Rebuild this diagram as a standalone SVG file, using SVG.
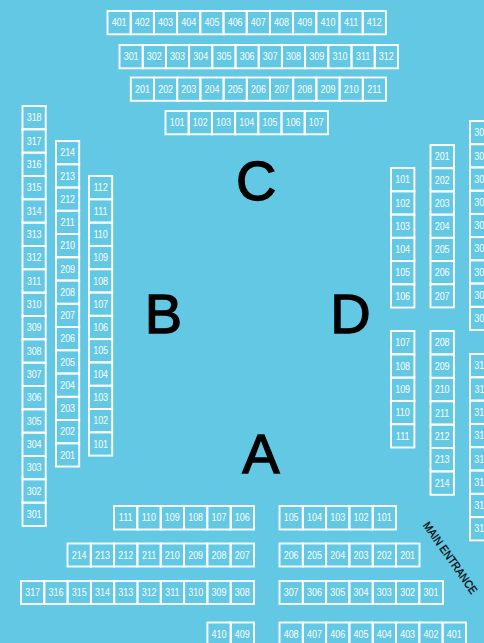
<svg xmlns="http://www.w3.org/2000/svg" width="484" height="643" viewBox="0 0 484 643">
<style>
.bg{fill:#62c8e3}
.seat rect{fill:none;stroke:#fff;stroke-width:1.9}
.seat text{font-family:"Liberation Sans",Arial,sans-serif;font-size:11.2px;fill:#fff;text-anchor:middle;transform-box:fill-box;transform-origin:center;transform:scaleX(.8)}
.big{font-family:"Liberation Sans",Arial,sans-serif;font-size:56px;fill:#000;stroke:#000;stroke-width:1.3;text-anchor:middle}
.ent{font-family:"Liberation Sans",Arial,sans-serif;font-size:11.5px;fill:#000;stroke:#000;stroke-width:.25;text-anchor:middle}
</style>
<rect class="bg" width="484" height="643"/>
<g id="connectors"/>
<g id="labels">
<text id="label-c" class="big" x="256.3" y="200">C</text>
<text id="label-b" class="big" x="163.5" y="333">B</text>
<text id="label-d" class="big" x="350.5" y="333">D</text>
<text id="label-a" class="big" x="261" y="473">A</text>
<text id="main-entrance" class="ent" x="0" y="0" textLength="85" lengthAdjust="spacingAndGlyphs" transform="translate(447 560) rotate(55)">MAIN ENTRANCE</text>
</g>
<g id="section-c-row-400">
<g id="c401" class="seat" transform="translate(107.5 11)"><rect width="23.2" height="23.3"/><text x="11.6" y="15.4">401</text></g>
<g id="c402" class="seat" transform="translate(130.7 11)"><rect width="23.2" height="23.3"/><text x="11.6" y="15.4">402</text></g>
<g id="c403" class="seat" transform="translate(153.9 11)"><rect width="23.2" height="23.3"/><text x="11.6" y="15.4">403</text></g>
<g id="c404" class="seat" transform="translate(177.1 11)"><rect width="23.2" height="23.3"/><text x="11.6" y="15.4">404</text></g>
<g id="c405" class="seat" transform="translate(200.3 11)"><rect width="23.2" height="23.3"/><text x="11.6" y="15.4">405</text></g>
<g id="c406" class="seat" transform="translate(223.5 11)"><rect width="23.2" height="23.3"/><text x="11.6" y="15.4">406</text></g>
<g id="c407" class="seat" transform="translate(246.7 11)"><rect width="23.2" height="23.3"/><text x="11.6" y="15.4">407</text></g>
<g id="c408" class="seat" transform="translate(269.9 11)"><rect width="23.2" height="23.3"/><text x="11.6" y="15.4">408</text></g>
<g id="c409" class="seat" transform="translate(293.1 11)"><rect width="23.2" height="23.3"/><text x="11.6" y="15.4">409</text></g>
<g id="c410" class="seat" transform="translate(316.3 11)"><rect width="23.2" height="23.3"/><text x="11.6" y="15.4">410</text></g>
<g id="c411" class="seat" transform="translate(339.5 11)"><rect width="23.2" height="23.3"/><text x="11.6" y="15.4">411</text></g>
<g id="c412" class="seat" transform="translate(362.7 11)"><rect width="23.2" height="23.3"/><text x="11.6" y="15.4">412</text></g>
</g>
<g id="section-c-row-300">
<g id="c301" class="seat" transform="translate(119.5 45)"><rect width="23.2" height="23.3"/><text x="11.6" y="15.4">301</text></g>
<g id="c302" class="seat" transform="translate(142.7 45)"><rect width="23.2" height="23.3"/><text x="11.6" y="15.4">302</text></g>
<g id="c303" class="seat" transform="translate(165.9 45)"><rect width="23.2" height="23.3"/><text x="11.6" y="15.4">303</text></g>
<g id="c304" class="seat" transform="translate(189.1 45)"><rect width="23.2" height="23.3"/><text x="11.6" y="15.4">304</text></g>
<g id="c305" class="seat" transform="translate(212.3 45)"><rect width="23.2" height="23.3"/><text x="11.6" y="15.4">305</text></g>
<g id="c306" class="seat" transform="translate(235.5 45)"><rect width="23.2" height="23.3"/><text x="11.6" y="15.4">306</text></g>
<g id="c307" class="seat" transform="translate(258.7 45)"><rect width="23.2" height="23.3"/><text x="11.6" y="15.4">307</text></g>
<g id="c308" class="seat" transform="translate(281.9 45)"><rect width="23.2" height="23.3"/><text x="11.6" y="15.4">308</text></g>
<g id="c309" class="seat" transform="translate(305.1 45)"><rect width="23.2" height="23.3"/><text x="11.6" y="15.4">309</text></g>
<g id="c310" class="seat" transform="translate(328.3 45)"><rect width="23.2" height="23.3"/><text x="11.6" y="15.4">310</text></g>
<g id="c311" class="seat" transform="translate(351.5 45)"><rect width="23.2" height="23.3"/><text x="11.6" y="15.4">311</text></g>
<g id="c312" class="seat" transform="translate(374.7 45)"><rect width="23.2" height="23.3"/><text x="11.6" y="15.4">312</text></g>
</g>
<g id="section-c-row-200">
<g id="c201" class="seat" transform="translate(130.8 77.5)"><rect width="23.2" height="23.3"/><text x="11.6" y="15.4">201</text></g>
<g id="c202" class="seat" transform="translate(154 77.5)"><rect width="23.2" height="23.3"/><text x="11.6" y="15.4">202</text></g>
<g id="c203" class="seat" transform="translate(177.2 77.5)"><rect width="23.2" height="23.3"/><text x="11.6" y="15.4">203</text></g>
<g id="c204" class="seat" transform="translate(200.4 77.5)"><rect width="23.2" height="23.3"/><text x="11.6" y="15.4">204</text></g>
<g id="c205" class="seat" transform="translate(223.6 77.5)"><rect width="23.2" height="23.3"/><text x="11.6" y="15.4">205</text></g>
<g id="c206" class="seat" transform="translate(246.8 77.5)"><rect width="23.2" height="23.3"/><text x="11.6" y="15.4">206</text></g>
<g id="c207" class="seat" transform="translate(270 77.5)"><rect width="23.2" height="23.3"/><text x="11.6" y="15.4">207</text></g>
<g id="c208" class="seat" transform="translate(293.2 77.5)"><rect width="23.2" height="23.3"/><text x="11.6" y="15.4">208</text></g>
<g id="c209" class="seat" transform="translate(316.4 77.5)"><rect width="23.2" height="23.3"/><text x="11.6" y="15.4">209</text></g>
<g id="c210" class="seat" transform="translate(339.6 77.5)"><rect width="23.2" height="23.3"/><text x="11.6" y="15.4">210</text></g>
<g id="c211" class="seat" transform="translate(362.8 77.5)"><rect width="23.2" height="23.3"/><text x="11.6" y="15.4">211</text></g>
</g>
<g id="section-c-row-100">
<g id="c101" class="seat" transform="translate(165.5 111)"><rect width="23.2" height="23.3"/><text x="11.6" y="15.4">101</text></g>
<g id="c102" class="seat" transform="translate(188.7 111)"><rect width="23.2" height="23.3"/><text x="11.6" y="15.4">102</text></g>
<g id="c103" class="seat" transform="translate(211.9 111)"><rect width="23.2" height="23.3"/><text x="11.6" y="15.4">103</text></g>
<g id="c104" class="seat" transform="translate(235.1 111)"><rect width="23.2" height="23.3"/><text x="11.6" y="15.4">104</text></g>
<g id="c105" class="seat" transform="translate(258.3 111)"><rect width="23.2" height="23.3"/><text x="11.6" y="15.4">105</text></g>
<g id="c106" class="seat" transform="translate(281.5 111)"><rect width="23.2" height="23.3"/><text x="11.6" y="15.4">106</text></g>
<g id="c107" class="seat" transform="translate(304.7 111)"><rect width="23.2" height="23.3"/><text x="11.6" y="15.4">107</text></g>
</g>
<g id="section-b-col-300">
<g id="b318" class="seat" transform="translate(22.5 106)"><rect width="23.2" height="23.3"/><text x="11.6" y="15.4">318</text></g>
<g id="b317" class="seat" transform="translate(22.5 129.3)"><rect width="23.2" height="23.3"/><text x="11.6" y="15.4">317</text></g>
<g id="b316" class="seat" transform="translate(22.5 152.7)"><rect width="23.2" height="23.3"/><text x="11.6" y="15.4">316</text></g>
<g id="b315" class="seat" transform="translate(22.5 176)"><rect width="23.2" height="23.3"/><text x="11.6" y="15.4">315</text></g>
<g id="b314" class="seat" transform="translate(22.5 199.3)"><rect width="23.2" height="23.3"/><text x="11.6" y="15.4">314</text></g>
<g id="b313" class="seat" transform="translate(22.5 222.7)"><rect width="23.2" height="23.3"/><text x="11.6" y="15.4">313</text></g>
<g id="b312" class="seat" transform="translate(22.5 246)"><rect width="23.2" height="23.3"/><text x="11.6" y="15.4">312</text></g>
<g id="b311" class="seat" transform="translate(22.5 269.3)"><rect width="23.2" height="23.3"/><text x="11.6" y="15.4">311</text></g>
<g id="b310" class="seat" transform="translate(22.5 292.7)"><rect width="23.2" height="23.3"/><text x="11.6" y="15.4">310</text></g>
<g id="b309" class="seat" transform="translate(22.5 316)"><rect width="23.2" height="23.3"/><text x="11.6" y="15.4">309</text></g>
<g id="b308" class="seat" transform="translate(22.5 339.3)"><rect width="23.2" height="23.3"/><text x="11.6" y="15.4">308</text></g>
<g id="b307" class="seat" transform="translate(22.5 362.7)"><rect width="23.2" height="23.3"/><text x="11.6" y="15.4">307</text></g>
<g id="b306" class="seat" transform="translate(22.5 386)"><rect width="23.2" height="23.3"/><text x="11.6" y="15.4">306</text></g>
<g id="b305" class="seat" transform="translate(22.5 409.3)"><rect width="23.2" height="23.3"/><text x="11.6" y="15.4">305</text></g>
<g id="b304" class="seat" transform="translate(22.5 432.7)"><rect width="23.2" height="23.3"/><text x="11.6" y="15.4">304</text></g>
<g id="b303" class="seat" transform="translate(22.5 456)"><rect width="23.2" height="23.3"/><text x="11.6" y="15.4">303</text></g>
<g id="b302" class="seat" transform="translate(22.5 479.3)"><rect width="23.2" height="23.3"/><text x="11.6" y="15.4">302</text></g>
<g id="b301" class="seat" transform="translate(22.5 502.7)"><rect width="23.2" height="23.3"/><text x="11.6" y="15.4">301</text></g>
</g>
<g id="section-b-col-200">
<g id="b214" class="seat" transform="translate(56 141)"><rect width="23.2" height="23.3"/><text x="11.6" y="15.4">214</text></g>
<g id="b213" class="seat" transform="translate(56 164.25)"><rect width="23.2" height="23.3"/><text x="11.6" y="15.4">213</text></g>
<g id="b212" class="seat" transform="translate(56 187.5)"><rect width="23.2" height="23.3"/><text x="11.6" y="15.4">212</text></g>
<g id="b211" class="seat" transform="translate(56 210.75)"><rect width="23.2" height="23.3"/><text x="11.6" y="15.4">211</text></g>
<g id="b210" class="seat" transform="translate(56 234)"><rect width="23.2" height="23.3"/><text x="11.6" y="15.4">210</text></g>
<g id="b209" class="seat" transform="translate(56 257.25)"><rect width="23.2" height="23.3"/><text x="11.6" y="15.4">209</text></g>
<g id="b208" class="seat" transform="translate(56 280.5)"><rect width="23.2" height="23.3"/><text x="11.6" y="15.4">208</text></g>
<g id="b207" class="seat" transform="translate(56 303.75)"><rect width="23.2" height="23.3"/><text x="11.6" y="15.4">207</text></g>
<g id="b206" class="seat" transform="translate(56 327)"><rect width="23.2" height="23.3"/><text x="11.6" y="15.4">206</text></g>
<g id="b205" class="seat" transform="translate(56 350.25)"><rect width="23.2" height="23.3"/><text x="11.6" y="15.4">205</text></g>
<g id="b204" class="seat" transform="translate(56 373.5)"><rect width="23.2" height="23.3"/><text x="11.6" y="15.4">204</text></g>
<g id="b203" class="seat" transform="translate(56 396.75)"><rect width="23.2" height="23.3"/><text x="11.6" y="15.4">203</text></g>
<g id="b202" class="seat" transform="translate(56 420)"><rect width="23.2" height="23.3"/><text x="11.6" y="15.4">202</text></g>
<g id="b201" class="seat" transform="translate(56 443.25)"><rect width="23.2" height="23.3"/><text x="11.6" y="15.4">201</text></g>
</g>
<g id="section-b-col-100">
<g id="b112" class="seat" transform="translate(89 176)"><rect width="23.2" height="23.3"/><text x="11.6" y="15.4">112</text></g>
<g id="b111" class="seat" transform="translate(89 199.3)"><rect width="23.2" height="23.3"/><text x="11.6" y="15.4">111</text></g>
<g id="b110" class="seat" transform="translate(89 222.6)"><rect width="23.2" height="23.3"/><text x="11.6" y="15.4">110</text></g>
<g id="b109" class="seat" transform="translate(89 245.9)"><rect width="23.2" height="23.3"/><text x="11.6" y="15.4">109</text></g>
<g id="b108" class="seat" transform="translate(89 269.2)"><rect width="23.2" height="23.3"/><text x="11.6" y="15.4">108</text></g>
<g id="b107" class="seat" transform="translate(89 292.5)"><rect width="23.2" height="23.3"/><text x="11.6" y="15.4">107</text></g>
<g id="b106" class="seat" transform="translate(89 315.8)"><rect width="23.2" height="23.3"/><text x="11.6" y="15.4">106</text></g>
<g id="b105" class="seat" transform="translate(89 339.1)"><rect width="23.2" height="23.3"/><text x="11.6" y="15.4">105</text></g>
<g id="b104" class="seat" transform="translate(89 362.4)"><rect width="23.2" height="23.3"/><text x="11.6" y="15.4">104</text></g>
<g id="b103" class="seat" transform="translate(89 385.7)"><rect width="23.2" height="23.3"/><text x="11.6" y="15.4">103</text></g>
<g id="b102" class="seat" transform="translate(89 409)"><rect width="23.2" height="23.3"/><text x="11.6" y="15.4">102</text></g>
<g id="b101" class="seat" transform="translate(89 432.3)"><rect width="23.2" height="23.3"/><text x="11.6" y="15.4">101</text></g>
</g>
<g id="section-d-col-100">
<g id="d101" class="seat" transform="translate(391 168)"><rect width="23.4" height="23.3"/><text x="11.6" y="15.4">101</text></g>
<g id="d102" class="seat" transform="translate(391 191.25)"><rect width="23.4" height="23.3"/><text x="11.6" y="15.4">102</text></g>
<g id="d103" class="seat" transform="translate(391 214.5)"><rect width="23.4" height="23.3"/><text x="11.6" y="15.4">103</text></g>
<g id="d104" class="seat" transform="translate(391 237.75)"><rect width="23.4" height="23.3"/><text x="11.6" y="15.4">104</text></g>
<g id="d105" class="seat" transform="translate(391 261)"><rect width="23.4" height="23.3"/><text x="11.6" y="15.4">105</text></g>
<g id="d106" class="seat" transform="translate(391 284.25)"><rect width="23.4" height="23.3"/><text x="11.6" y="15.4">106</text></g>
<g id="d107" class="seat" transform="translate(391 331)"><rect width="23.4" height="23.3"/><text x="11.6" y="15.4">107</text></g>
<g id="d108" class="seat" transform="translate(391 354.3)"><rect width="23.4" height="23.3"/><text x="11.6" y="15.4">108</text></g>
<g id="d109" class="seat" transform="translate(391 377.6)"><rect width="23.4" height="23.3"/><text x="11.6" y="15.4">109</text></g>
<g id="d110" class="seat" transform="translate(391 400.9)"><rect width="23.4" height="23.3"/><text x="11.6" y="15.4">110</text></g>
<g id="d111" class="seat" transform="translate(391 424.2)"><rect width="23.4" height="23.3"/><text x="11.6" y="15.4">111</text></g>
</g>
<g id="section-d-col-200">
<g id="d201" class="seat" transform="translate(430.5 145)"><rect width="23.4" height="23.2"/><text x="11.6" y="15.4">201</text></g>
<g id="d202" class="seat" transform="translate(430.5 168.2)"><rect width="23.4" height="23.2"/><text x="11.6" y="15.4">202</text></g>
<g id="d203" class="seat" transform="translate(430.5 191.4)"><rect width="23.4" height="23.2"/><text x="11.6" y="15.4">203</text></g>
<g id="d204" class="seat" transform="translate(430.5 214.6)"><rect width="23.4" height="23.2"/><text x="11.6" y="15.4">204</text></g>
<g id="d205" class="seat" transform="translate(430.5 237.8)"><rect width="23.4" height="23.2"/><text x="11.6" y="15.4">205</text></g>
<g id="d206" class="seat" transform="translate(430.5 261)"><rect width="23.4" height="23.2"/><text x="11.6" y="15.4">206</text></g>
<g id="d207" class="seat" transform="translate(430.5 284.2)"><rect width="23.4" height="23.2"/><text x="11.6" y="15.4">207</text></g>
<g id="d208" class="seat" transform="translate(430.5 331)"><rect width="23.4" height="23.4"/><text x="11.6" y="15.4">208</text></g>
<g id="d209" class="seat" transform="translate(430.5 354.4)"><rect width="23.4" height="23.4"/><text x="11.6" y="15.4">209</text></g>
<g id="d210" class="seat" transform="translate(430.5 377.8)"><rect width="23.4" height="23.4"/><text x="11.6" y="15.4">210</text></g>
<g id="d211" class="seat" transform="translate(430.5 401.2)"><rect width="23.4" height="23.4"/><text x="11.6" y="15.4">211</text></g>
<g id="d212" class="seat" transform="translate(430.5 424.6)"><rect width="23.4" height="23.4"/><text x="11.6" y="15.4">212</text></g>
<g id="d213" class="seat" transform="translate(430.5 448)"><rect width="23.4" height="23.4"/><text x="11.6" y="15.4">213</text></g>
<g id="d214" class="seat" transform="translate(430.5 471.4)"><rect width="23.4" height="23.4"/><text x="11.6" y="15.4">214</text></g>
</g>
<g id="section-d-col-300">
<g id="d301" class="seat" transform="translate(470 121)"><rect width="23.2" height="23.2"/><text x="11.6" y="15.4">301</text></g>
<g id="d302" class="seat" transform="translate(470 144.2)"><rect width="23.2" height="23.2"/><text x="11.6" y="15.4">302</text></g>
<g id="d303" class="seat" transform="translate(470 167.4)"><rect width="23.2" height="23.3"/><text x="11.6" y="15.4">303</text></g>
<g id="d304" class="seat" transform="translate(470 190.7)"><rect width="23.2" height="23.2"/><text x="11.6" y="15.4">304</text></g>
<g id="d305" class="seat" transform="translate(470 213.9)"><rect width="23.2" height="23.2"/><text x="11.6" y="15.4">305</text></g>
<g id="d306" class="seat" transform="translate(470 237.1)"><rect width="23.2" height="23.2"/><text x="11.6" y="15.4">306</text></g>
<g id="d307" class="seat" transform="translate(470 260.3)"><rect width="23.2" height="23.2"/><text x="11.6" y="15.4">307</text></g>
<g id="d308" class="seat" transform="translate(470 283.5)"><rect width="23.2" height="23.3"/><text x="11.6" y="15.4">308</text></g>
<g id="d309" class="seat" transform="translate(470 306.8)"><rect width="23.2" height="23.2"/><text x="11.6" y="15.4">309</text></g>
<g id="d310" class="seat" transform="translate(470 354)"><rect width="23.2" height="23.3"/><text x="11.6" y="15.4">310</text></g>
<g id="d311" class="seat" transform="translate(470 377.3)"><rect width="23.2" height="23.3"/><text x="11.6" y="15.4">311</text></g>
<g id="d312" class="seat" transform="translate(470 400.6)"><rect width="23.2" height="23.3"/><text x="11.6" y="15.4">312</text></g>
<g id="d313" class="seat" transform="translate(470 423.9)"><rect width="23.2" height="23.3"/><text x="11.6" y="15.4">313</text></g>
<g id="d314" class="seat" transform="translate(470 447.2)"><rect width="23.2" height="23.3"/><text x="11.6" y="15.4">314</text></g>
<g id="d315" class="seat" transform="translate(470 470.5)"><rect width="23.2" height="23.3"/><text x="11.6" y="15.4">315</text></g>
<g id="d316" class="seat" transform="translate(470 493.8)"><rect width="23.2" height="23.3"/><text x="11.6" y="15.4">316</text></g>
<g id="d317" class="seat" transform="translate(470 517.1)"><rect width="23.2" height="23.3"/><text x="11.6" y="15.4">317</text></g>
</g>
<g id="section-a-row-100">
<g id="a111" class="seat" transform="translate(114 506)"><rect width="23.3" height="23.5"/><text x="11.6" y="15.4">111</text></g>
<g id="a110" class="seat" transform="translate(137.3 506)"><rect width="23.4" height="23.5"/><text x="11.6" y="15.4">110</text></g>
<g id="a109" class="seat" transform="translate(160.7 506)"><rect width="23.3" height="23.5"/><text x="11.6" y="15.4">109</text></g>
<g id="a108" class="seat" transform="translate(184 506)"><rect width="23.3" height="23.5"/><text x="11.6" y="15.4">108</text></g>
<g id="a107" class="seat" transform="translate(207.3 506)"><rect width="23.4" height="23.5"/><text x="11.6" y="15.4">107</text></g>
<g id="a106" class="seat" transform="translate(230.7 506)"><rect width="23.3" height="23.5"/><text x="11.6" y="15.4">106</text></g>
<g id="a105" class="seat" transform="translate(279.5 506)"><rect width="23.3" height="23.5"/><text x="11.6" y="15.4">105</text></g>
<g id="a104" class="seat" transform="translate(302.8 506)"><rect width="23.3" height="23.5"/><text x="11.6" y="15.4">104</text></g>
<g id="a103" class="seat" transform="translate(326.1 506)"><rect width="23.3" height="23.5"/><text x="11.6" y="15.4">103</text></g>
<g id="a102" class="seat" transform="translate(349.4 506)"><rect width="23.3" height="23.5"/><text x="11.6" y="15.4">102</text></g>
<g id="a101" class="seat" transform="translate(372.7 506)"><rect width="23.3" height="23.5"/><text x="11.6" y="15.4">101</text></g>
</g>
<g id="section-a-row-200">
<g id="a214" class="seat" transform="translate(67.5 543.5)"><rect width="23.3" height="23"/><text x="11.6" y="15.4">214</text></g>
<g id="a213" class="seat" transform="translate(90.8 543.5)"><rect width="23.3" height="23"/><text x="11.6" y="15.4">213</text></g>
<g id="a212" class="seat" transform="translate(114.1 543.5)"><rect width="23.3" height="23"/><text x="11.6" y="15.4">212</text></g>
<g id="a211" class="seat" transform="translate(137.4 543.5)"><rect width="23.3" height="23"/><text x="11.6" y="15.4">211</text></g>
<g id="a210" class="seat" transform="translate(160.7 543.5)"><rect width="23.3" height="23"/><text x="11.6" y="15.4">210</text></g>
<g id="a209" class="seat" transform="translate(184 543.5)"><rect width="23.3" height="23"/><text x="11.6" y="15.4">209</text></g>
<g id="a208" class="seat" transform="translate(207.3 543.5)"><rect width="23.3" height="23"/><text x="11.6" y="15.4">208</text></g>
<g id="a207" class="seat" transform="translate(230.6 543.5)"><rect width="23.4" height="23"/><text x="11.6" y="15.4">207</text></g>
<g id="a206" class="seat" transform="translate(279.5 543.5)"><rect width="23.3" height="23"/><text x="11.6" y="15.4">206</text></g>
<g id="a205" class="seat" transform="translate(302.8 543.5)"><rect width="23.3" height="23"/><text x="11.6" y="15.4">205</text></g>
<g id="a204" class="seat" transform="translate(326.1 543.5)"><rect width="23.3" height="23"/><text x="11.6" y="15.4">204</text></g>
<g id="a203" class="seat" transform="translate(349.4 543.5)"><rect width="23.3" height="23"/><text x="11.6" y="15.4">203</text></g>
<g id="a202" class="seat" transform="translate(372.7 543.5)"><rect width="23.3" height="23"/><text x="11.6" y="15.4">202</text></g>
<g id="a201" class="seat" transform="translate(396 543.5)"><rect width="23.5" height="23"/><text x="11.6" y="15.4">201</text></g>
</g>
<g id="section-a-row-300">
<g id="a317" class="seat" transform="translate(21 581)"><rect width="23.3" height="23"/><text x="11.6" y="15.4">317</text></g>
<g id="a316" class="seat" transform="translate(44.3 581)"><rect width="23.3" height="23"/><text x="11.6" y="15.4">316</text></g>
<g id="a315" class="seat" transform="translate(67.6 581)"><rect width="23.3" height="23"/><text x="11.6" y="15.4">315</text></g>
<g id="a314" class="seat" transform="translate(90.9 581)"><rect width="23.3" height="23"/><text x="11.6" y="15.4">314</text></g>
<g id="a313" class="seat" transform="translate(114.2 581)"><rect width="23.3" height="23"/><text x="11.6" y="15.4">313</text></g>
<g id="a312" class="seat" transform="translate(137.5 581)"><rect width="23.3" height="23"/><text x="11.6" y="15.4">312</text></g>
<g id="a311" class="seat" transform="translate(160.8 581)"><rect width="23.3" height="23"/><text x="11.6" y="15.4">311</text></g>
<g id="a310" class="seat" transform="translate(184.1 581)"><rect width="23.3" height="23"/><text x="11.6" y="15.4">310</text></g>
<g id="a309" class="seat" transform="translate(207.4 581)"><rect width="23.3" height="23"/><text x="11.6" y="15.4">309</text></g>
<g id="a308" class="seat" transform="translate(230.7 581)"><rect width="23.3" height="23"/><text x="11.6" y="15.4">308</text></g>
<g id="a307" class="seat" transform="translate(279.5 581)"><rect width="23.3" height="23"/><text x="11.6" y="15.4">307</text></g>
<g id="a306" class="seat" transform="translate(302.8 581)"><rect width="23.3" height="23"/><text x="11.6" y="15.4">306</text></g>
<g id="a305" class="seat" transform="translate(326.1 581)"><rect width="23.3" height="23"/><text x="11.6" y="15.4">305</text></g>
<g id="a304" class="seat" transform="translate(349.4 581)"><rect width="23.3" height="23"/><text x="11.6" y="15.4">304</text></g>
<g id="a303" class="seat" transform="translate(372.7 581)"><rect width="23.3" height="23"/><text x="11.6" y="15.4">303</text></g>
<g id="a302" class="seat" transform="translate(396 581)"><rect width="23.3" height="23"/><text x="11.6" y="15.4">302</text></g>
<g id="a301" class="seat" transform="translate(419.3 581)"><rect width="23.7" height="23"/><text x="11.6" y="15.4">301</text></g>
</g>
<g id="section-a-row-400">
<g id="a410" class="seat" transform="translate(207.4 622.5)"><rect width="23.3" height="23"/><text x="11.6" y="15.4">410</text></g>
<g id="a409" class="seat" transform="translate(230.7 622.5)"><rect width="23.3" height="23"/><text x="11.6" y="15.4">409</text></g>
<g id="a408" class="seat" transform="translate(279.5 622.5)"><rect width="23.3" height="23"/><text x="11.6" y="15.4">408</text></g>
<g id="a407" class="seat" transform="translate(302.8 622.5)"><rect width="23.3" height="23"/><text x="11.6" y="15.4">407</text></g>
<g id="a406" class="seat" transform="translate(326.1 622.5)"><rect width="23.3" height="23"/><text x="11.6" y="15.4">406</text></g>
<g id="a405" class="seat" transform="translate(349.4 622.5)"><rect width="23.3" height="23"/><text x="11.6" y="15.4">405</text></g>
<g id="a404" class="seat" transform="translate(372.7 622.5)"><rect width="23.3" height="23"/><text x="11.6" y="15.4">404</text></g>
<g id="a403" class="seat" transform="translate(396 622.5)"><rect width="23.3" height="23"/><text x="11.6" y="15.4">403</text></g>
<g id="a402" class="seat" transform="translate(419.3 622.5)"><rect width="23.3" height="23"/><text x="11.6" y="15.4">402</text></g>
<g id="a401" class="seat" transform="translate(442.6 622.5)"><rect width="23.4" height="23"/><text x="11.6" y="15.4">401</text></g>
</g>
</svg>
